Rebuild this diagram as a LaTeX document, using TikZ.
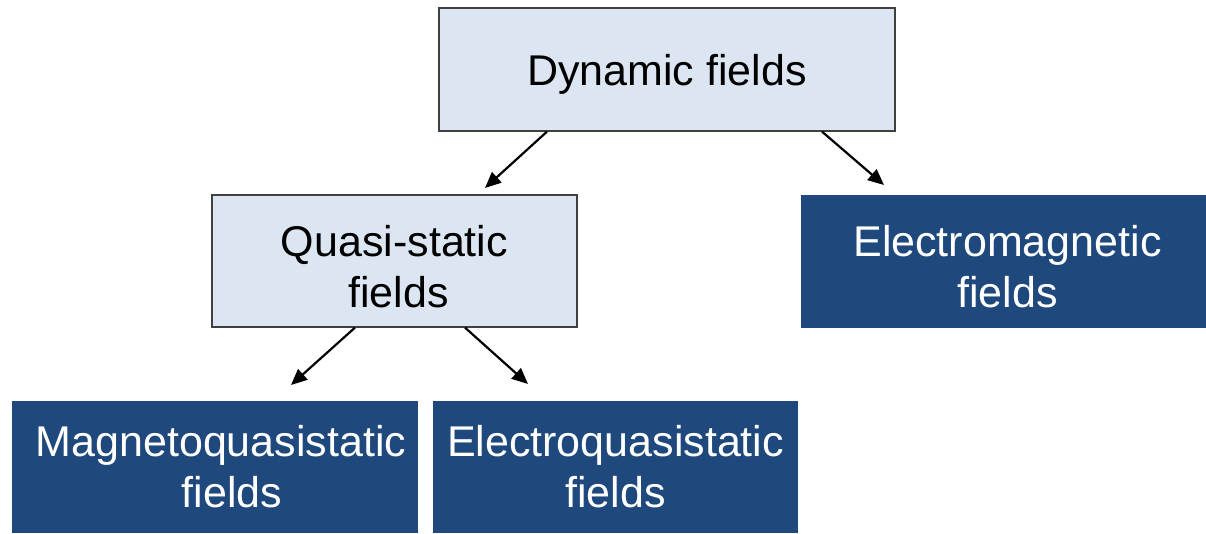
\documentclass[tikz,border=0pt]{standalone}
\usepackage{fontspec}
\setmainfont{Liberation Sans}
\usetikzlibrary{arrows.meta}
\definecolor{lightbox}{HTML}{DCE6F2}
\definecolor{darkbox}{HTML}{1F497D}
\begin{document}
\begin{tikzpicture}[x=1pt,y=-1pt,
	lightfield/.style={draw=black!75,line width=1.2pt,fill=lightbox,align=center,inner sep=0pt,text height=92pt,text depth=0pt,font=\fontsize{43}{51}\selectfont},
	darkfield/.style={fill=darkbox,text=white,align=center,inner sep=0pt,font=\fontsize{43}{51}\selectfont},
	flow/.style={line width=2.2pt,-{Stealth[length=16pt,width=14pt,inset=0pt]}}]
\useasboundingbox (0,0) rectangle (1206,533);

%Top
\node [lightfield,text height=31pt,minimum width=456pt,minimum height=123pt] (dyn) at (667,69.5) {Dynamic fields};

%Middle: left then right
\node [lightfield,minimum width=365pt,minimum height=132pt] (quasi) at (394.5,261) {Quasi-static\\\hspace*{8pt}fields};
\node [darkfield,text height=92pt,text depth=0pt,minimum width=405pt,minimum height=133pt] (em) at (1003.5,261.5) {\hspace*{8pt}Electromagnetic\\\hspace*{8pt}fields};

%Bottom
\node [darkfield,minimum width=406pt,minimum height=132pt] (mqs) at (215,467) {\hspace*{12pt}Magnetoquasistatic\\\hspace*{34pt}fields};
\node [darkfield,minimum width=365pt,minimum height=132pt] (eqs) at (615.5,467) {Electroquasistatic\\fields};

%Flow lines
\coordinate (tipquasi) at (485,188);
\coordinate (tipem) at (884,185);
\coordinate (tipmqs) at (291,385);
\coordinate (tipeqs) at (528,384);
\draw [flow] ([xshift=-120pt]dyn.south) -- (tipquasi);
\draw [flow] ([xshift=155pt]dyn.south) -- (tipem);
\draw [flow] ([xshift=-39.5pt]quasi.south) -- (tipmqs);
\draw [flow] ([xshift=70.5pt]quasi.south) -- (tipeqs);
\end{tikzpicture}
\end{document}
